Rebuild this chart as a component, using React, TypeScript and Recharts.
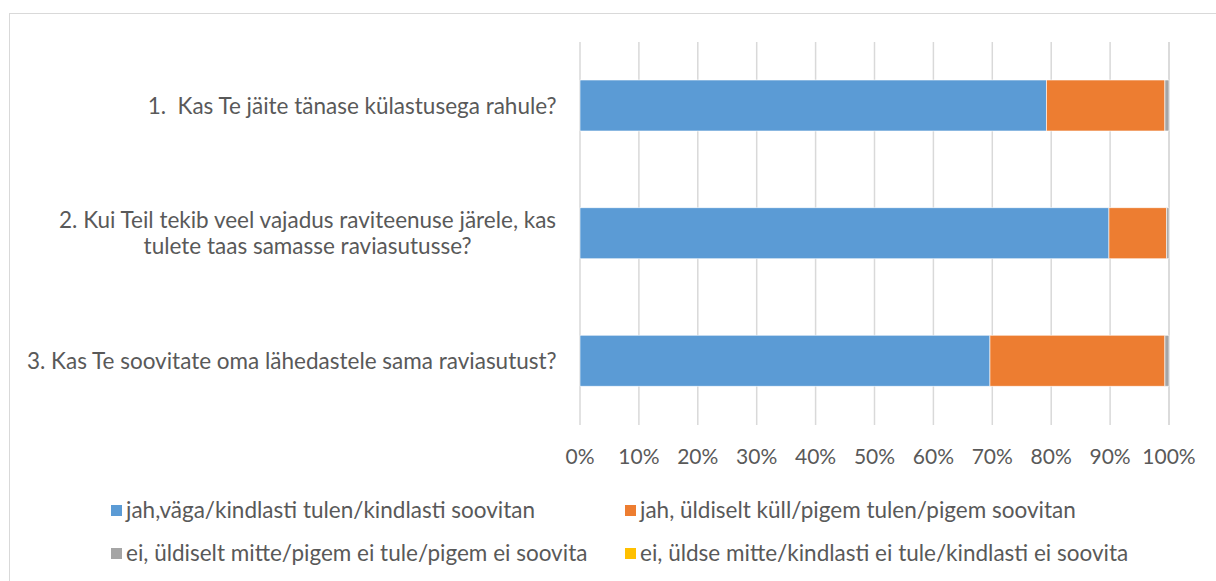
import React from 'react';
import { BarChart, Bar, XAxis, YAxis, CartesianGrid } from 'recharts';

// survey questions (y categories), one entry per line of the label
const questions: string[][] = [
  ['1.  Kas Te jäite tänase külastusega rahule?'],
  ['2. Kui Teil tekib veel vajadus raviteenuse järele, kas', 'tulete taas samasse raviasutusse?'],
  ['3. Kas Te soovitate oma lähedastele sama raviasutust?'],
];

const seriesNames = [
  'jah,väga/kindlasti tulen/kindlasti soovitan',
  'jah, üldiselt küll/pigem tulen/pigem soovitan',
  'ei, üldiselt mitte/pigem ei tule/pigem ei soovita',
  'ei, üldse mitte/kindlasti ei tule/kindlasti ei soovita',
];

// shares in %
const definitelyYes = [79.2, 89.8, 69.6];
const ratherYes = [20.1, 9.8, 29.7];
const ratherNo = [0.7, 0.4, 0.7];
const definitelyNo = [0, 0, 0];

const percentTicks = [0, 10, 20, 30, 40, 50, 60, 70, 80, 90, 100];

const colors = ['#5B9BD5', '#ED7D31', '#A5A5A5', '#FFC000'];
const keys = ['s0', 's1', 's2', 's3'];

const FONT = 'Lato';
const FONT_SIZE = 22.5;
const TICK_SIZE = 21;
const TEXT = '#595959';

const data = questions.map((_, i) => ({
  q: i,
  s0: definitelyYes[i],
  s1: ratherYes[i],
  s2: ratherNo[i],
  s3: definitelyNo[i],
}));

let ctx: CanvasRenderingContext2D | null = null;
function textWidth(s: string) {
  if (!ctx) ctx = document.createElement('canvas').getContext('2d');
  if (!ctx) return s.length * FONT_SIZE * 0.5;
  ctx.font = `${FONT_SIZE}px ${FONT}`;
  return ctx.measureText(s).width;
}

function QuestionTick(props: any) {
  const { x, y, payload } = props;
  const lines = questions[Number(payload.value)] ?? [];
  const widest = Math.max(...lines.map(textWidth));
  const cx = x - widest / 2;
  const lineH = 26;
  return (
    <g>
      {lines.map((line, i) => (
        <text
          key={i}
          x={cx}
          y={y + (i - (lines.length - 1) / 2) * lineH}
          dy="0.35em"
          textAnchor="middle"
          fill={TEXT}
          fontSize={FONT_SIZE}
          fontFamily={FONT}
          style={{ whiteSpace: 'pre' }}
        >
          {line}
        </text>
      ))}
    </g>
  );
}

function LegendItem({ name, color, left, top }: { name: string; color: string; left: number; top: number }) {
  return (
    <div
      style={{
        position: 'absolute',
        left,
        top,
        display: 'flex',
        alignItems: 'center',
        whiteSpace: 'nowrap',
        fontFamily: FONT,
        fontSize: FONT_SIZE,
        color: TEXT,
        lineHeight: '26px',
      }}
    >
      <span style={{ width: 11, height: 11, background: color, marginRight: 4, display: 'inline-block' }} />
      {name}
    </div>
  );
}

export default function App() {
  const legendPos = [
    { left: 111, top: 497 },
    { left: 625, top: 497 },
    { left: 111, top: 540 },
    { left: 625, top: 540 },
  ];
  return (
    <div
      style={{
        position: 'fixed',
        left: 0,
        top: 0,
        width: 1216,
        height: 581,
        background: '#fff',
        overflow: 'hidden',
      }}
    >
      <div
        style={{
          position: 'absolute',
          left: 9,
          top: 13,
          width: 1400,
          height: 800,
          border: '1.5px solid #d9d9d9',
        }}
      />
      <div style={{ position: 'absolute', left: 0, top: 0 }}>
        <BarChart
          width={1216}
          height={581}
          data={data}
          layout="vertical"
          margin={{ top: 42, right: 47, bottom: 126, left: 0 }}
          barSize={51}
        >
          <CartesianGrid horizontal={false} stroke="#d9d9d9" strokeWidth={1.5} />
          <XAxis
            type="number"
            domain={[0, 100]}
            ticks={percentTicks}
            tickFormatter={(v) => `${v}%`}
            axisLine={false}
            tickLine={false}
            tickSize={0}
            tickMargin={24}
            height={30}
            tick={{ fill: TEXT, fontSize: TICK_SIZE, fontFamily: FONT }}
            interval={0}
          />
          <YAxis
            type="category"
            dataKey="q"
            width={580}
            axisLine={false}
            tickLine={false}
            tickSize={0}
            tickMargin={23}
            tick={<QuestionTick />}
            interval={0}
          />
          {keys.map((k, i) => (
            <Bar
              key={k}
              dataKey={k}
              name={seriesNames[i]}
              stackId="a"
              fill={colors[i]}
              stroke="#ffffff"
              strokeWidth={0.6}
              isAnimationActive={false}
            />
          ))}
        </BarChart>
      </div>
      {seriesNames.map((n, i) => (
        <LegendItem key={n} name={n} color={colors[i]} left={legendPos[i].left} top={legendPos[i].top} />
      ))}
    </div>
  );
}
